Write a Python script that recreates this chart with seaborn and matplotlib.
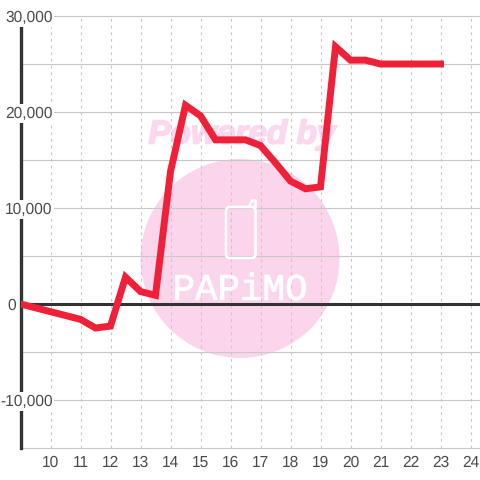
import matplotlib
matplotlib.use('Agg')
import matplotlib.pyplot as plt
import pandas as pd
import seaborn as sns
from matplotlib.patches import Circle, FancyBboxPatch
from matplotlib.patheffects import withStroke
from matplotlib.transforms import IdentityTransform, blended_transform_factory

# values
hours = [9, 10, 11, 11.5, 12, 12.5, 13, 13.5, 14, 14.5, 15, 15.5, 16, 16.5, 17,
         17.5, 18, 18.5, 19, 19.5, 20, 20.5, 21, 21.5, 22, 22.5, 23]
values = [0, -800, -1600, -2500, -2300, 2800, 1300, 900, 13800, 20700, 19600, 17100, 17100, 17100, 16500,
          14700, 12800, 12000, 12200, 26800, 25400, 25400, 25000, 25000, 25000, 25000, 25000]
x_ticks = list(range(10, 25))
y_labelled = [-10000, 0, 10000, 20000, 30000]
y_grid = [-15000, -5000, 5000, 15000, 25000]

sns.set_theme(style='white')
plt.rcParams['font.family'] = ['Liberation Sans', 'DejaVu Sans']
plt.rcParams['text.hinting'] = 'none'

df = pd.DataFrame({'hour': hours, 'value': values})

fig = plt.figure(figsize=(4.8, 4.8), dpi=100, facecolor='white')
ax = fig.add_axes([20.5 / 480, 32 / 480, 459.5 / 480, 432 / 480])
ax.patch.set_visible(False)

GREY = '#c8c8c8'
DARK = '#333333'
TEXT = '#4a4a4a'
PINK = '#fbd5ec'
px = IdentityTransform()


def flip(y):
    return 480 - y


# watermark, placed in pixels
ax.add_patch(Circle((240, flip(258.5)), 99.5, transform=px, fc=PINK, ec='none', zorder=0.5))
ax.text(242, flip(135), 'Powered by', transform=px, color='#fcd8ee', fontsize=24, weight='bold', style='italic',
        ha='center', va='center', zorder=0.6,
        path_effects=[withStroke(linewidth=1.2, foreground='#fcd8ee')])
ax.add_patch(FancyBboxPatch((226, flip(258)), 29.5, 51, boxstyle='round,pad=0,rounding_size=4', transform=px,
                            fc='none', ec='white', lw=1.8, zorder=2.6))
ax.plot([249, 252, 255.5, 255.5], [flip(207), flip(200.5), flip(200.5), flip(208)], transform=px, color='white',
        lw=1.8, zorder=2.6)
ax.text(240, flip(290), 'PAPiMO', transform=px, family='Liberation Mono', color='white', fontsize=27,
        ha='center', va='center', zorder=2.6,
        path_effects=[withStroke(linewidth=0.6, foreground='white')])

ax.set_xlim(9, 9 + 459.5 / 30)
ax.set_ylim(-15000, 30000)
ax.set_xticks(x_ticks)
ax.set_yticks(y_labelled)
ax.set_yticks(y_grid, minor=True)
ax.set_yticklabels([])

ax.grid(True, axis='y', which='both', color=GREY, lw=0.8)
ax.grid(True, axis='x', color=GREY, lw=0.8, ls=(0, (2.6, 3.4)))
ax.set_axisbelow(False)
for t in ax.yaxis.get_minor_ticks() + ax.yaxis.get_major_ticks():
    t.gridline.set_clip_on(False)

for side in ['top', 'right', 'bottom']:
    ax.spines[side].set_visible(False)
ax.spines['left'].set_linewidth(2.4)
ax.spines['left'].set_color(DARK)
ax.spines['left'].set_zorder(3)

ax.axhline(0, color=DARK, lw=2.2, zorder=3)

sns.lineplot(data=df, x='hour', y='value', ax=ax, color='#f02038', lw=5, errorbar=None, zorder=4,
             solid_joinstyle='miter', solid_capstyle='projecting')
ax.set_xlabel('')
ax.set_ylabel('')

ax.tick_params(axis='both', which='both', length=0)
ax.tick_params(axis='x', labelsize=11.2, labelcolor=TEXT, pad=5)

# y labels sit on top of the axis line with a white backing, so they are plain texts
label_tf = blended_transform_factory(px, ax.transData)
for v in y_labelled:
    right = 16 if v == 0 else 52.5
    ax.text(right, v, f'{v:,}', transform=label_tf, ha='right', va='center_baseline', fontsize=11.2, color=TEXT,
            zorder=6, bbox=dict(fc='white', ec='none', pad=1.2))

fig.savefig('out.png', dpi=100, facecolor='white')
